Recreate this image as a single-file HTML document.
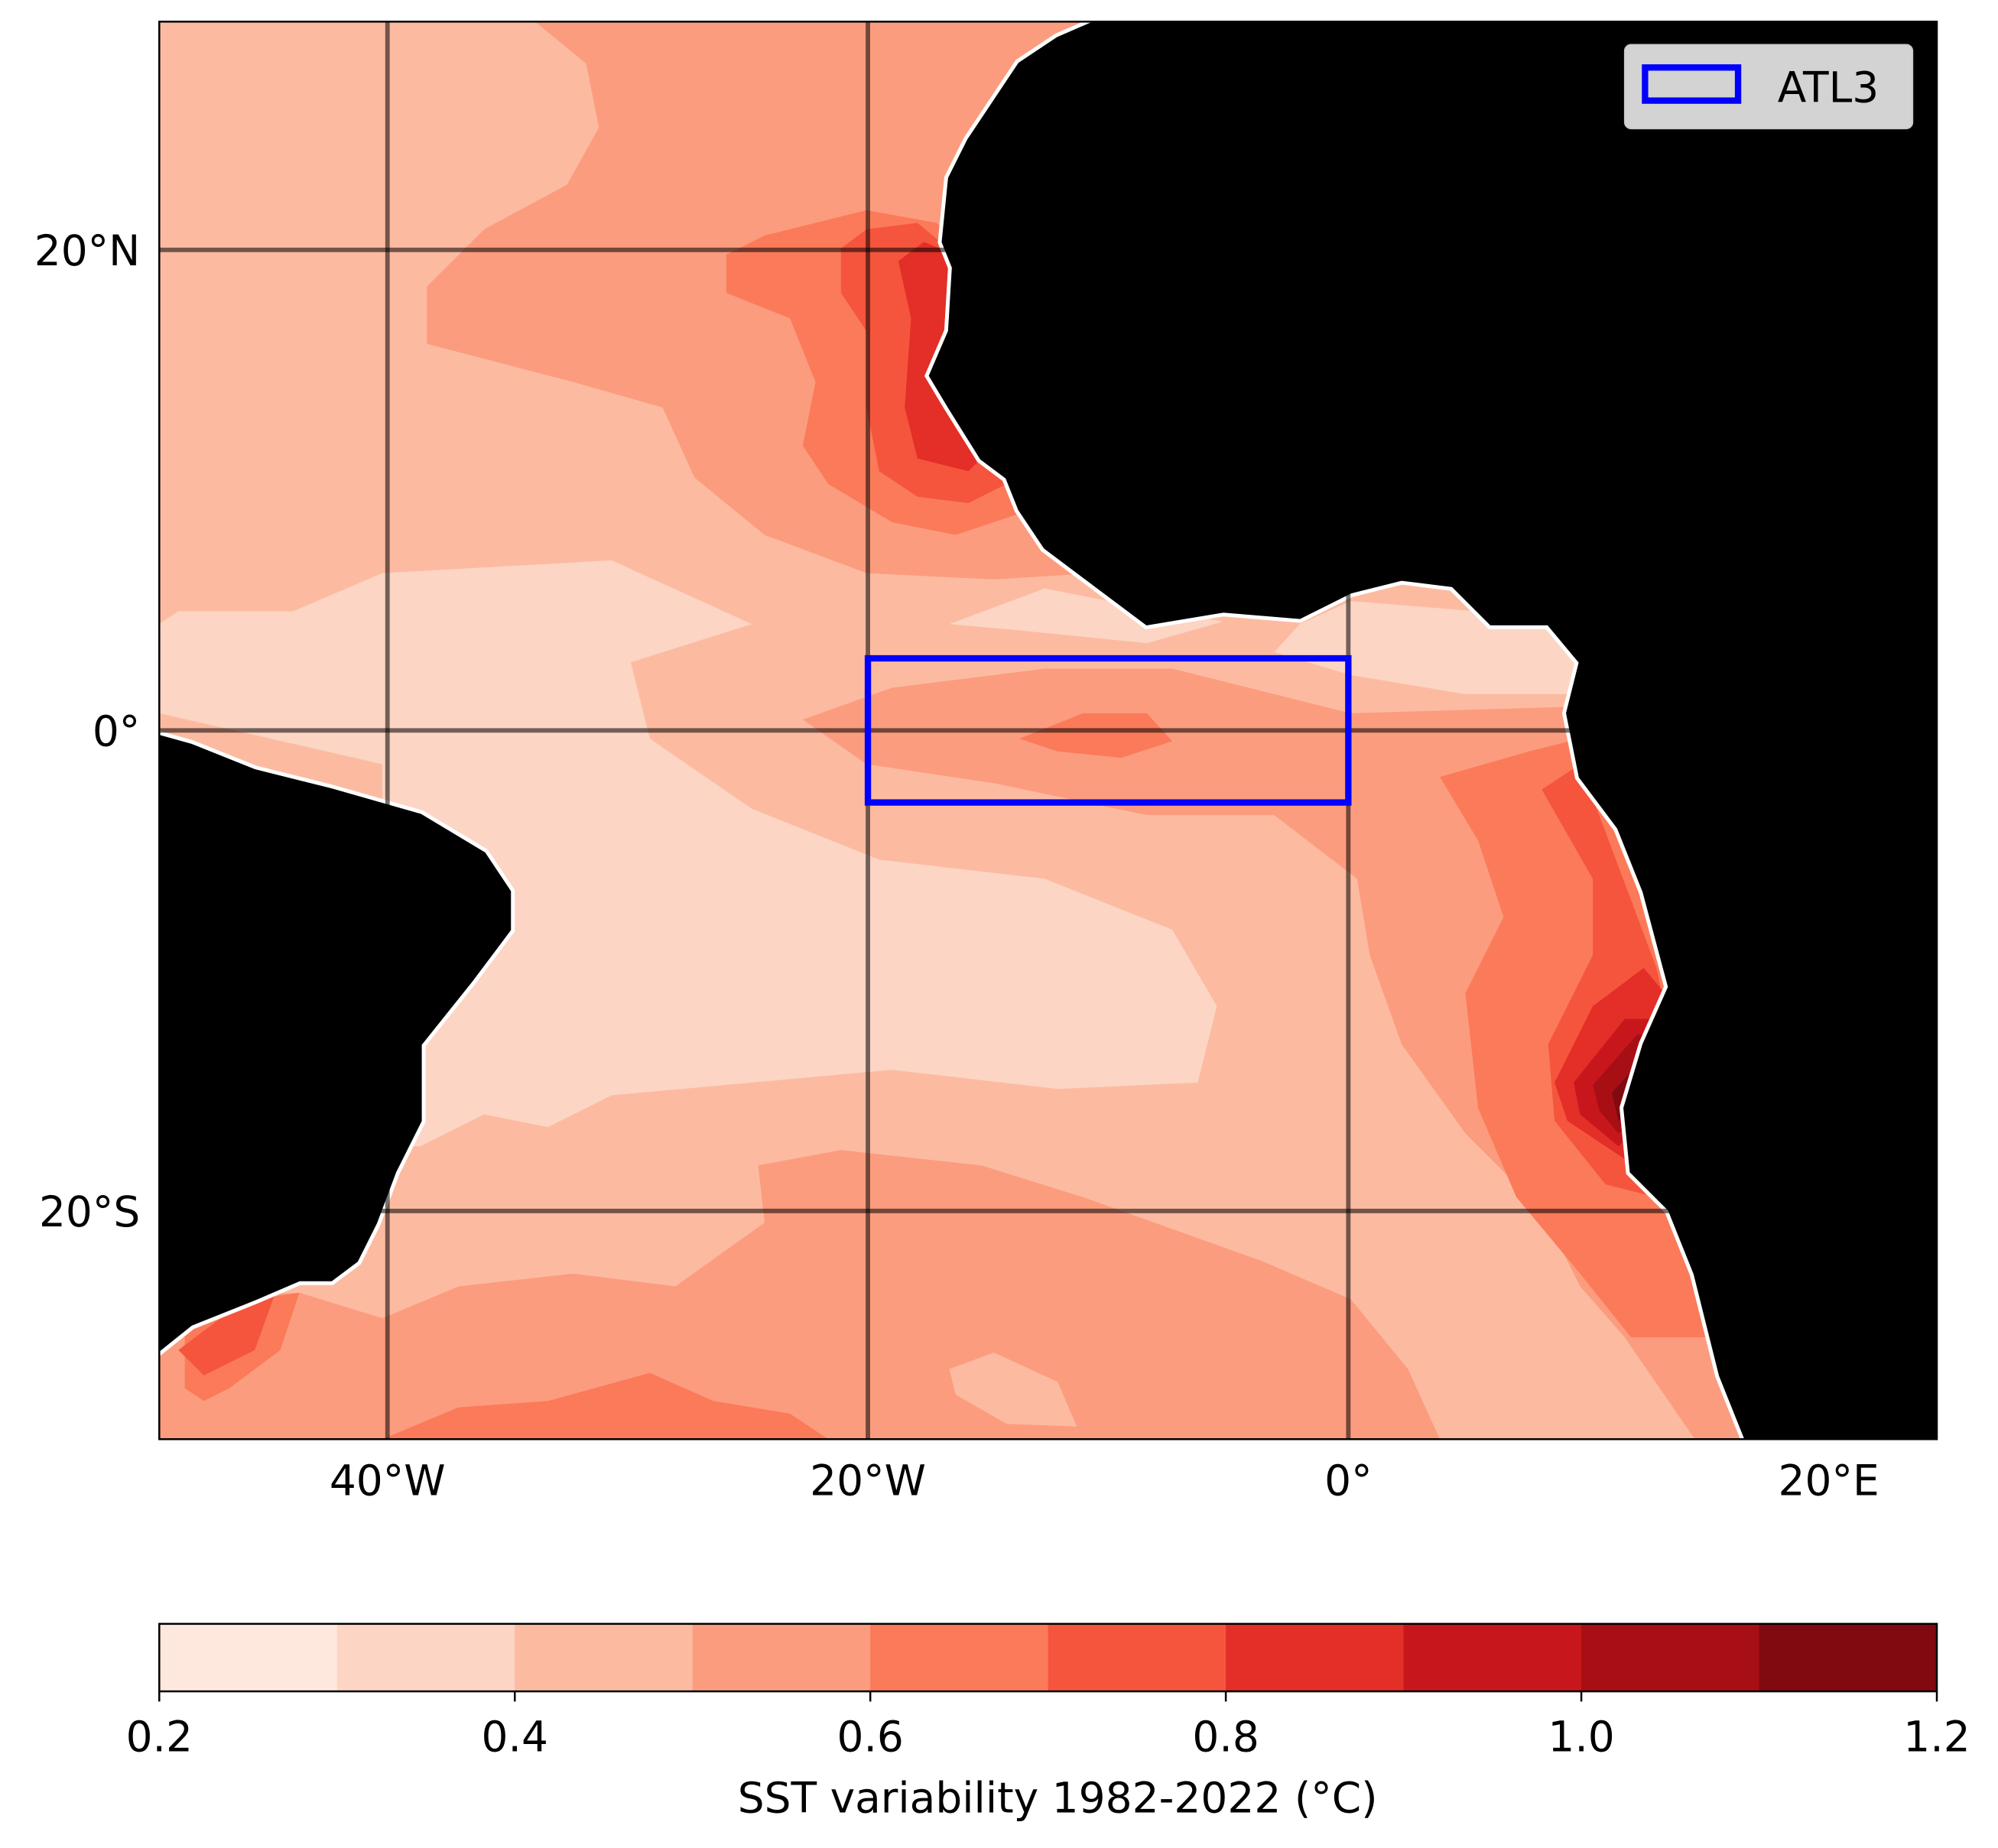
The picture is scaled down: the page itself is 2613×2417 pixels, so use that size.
<!DOCTYPE html>
<html><head><meta charset="utf-8">
<style>
html,body{margin:0;padding:0;background:#fff;}
svg{display:block;font-family:"DejaVu Sans","Liberation Sans",sans-serif;}
</style></head>
<body>
<svg id="fig" width="2613" height="2417" viewBox="0 0 1568 1451" preserveAspectRatio="none" xmlns="http://www.w3.org/2000/svg">
<defs><clipPath id="mapclip"><rect x="125" y="17" width="1395" height="1113"/></clipPath></defs>
<g id="map" clip-path="url(#mapclip)"></g>
<g id="overlay"></g>
</svg>
<script>
// colorbar data
const levels = [0.2,0.3,0.4,0.5,0.6,0.7,0.8,0.9,1.0,1.1,1.2];
const levelColors = ['#fee8dd','#fcd5c4','#fcbba1','#fc9c7e','#fb7a5a','#f5553d','#e32f27','#c8171c','#a80f15','#800a10'];
const cbTicks = [0.2,0.4,0.6,0.8,1.0,1.2];
const lonTicks = [-40,-20,0,20];
const lonLabels = ['40°W','20°W','0°','20°E'];
const latTicks = [20,0,-20];
const latLabels = ['20°N','0°','20°S'];
const atl3Lon = [-20,0];
const atl3Lat = [-3,3];

// contour geometry (display coords) per level index
const contours = [
 {lvl:1, pts:[[140,480],[230,480],[300,450],[480,440],[590,490],[495,520],[510,580],[590,635],[690,675],[820,690],[920,730],[955,790],[940,850],[830,855],[700,840],[590,850],[480,860],[430,885],[380,875],[330,900],[300,900],[300,600],[125,560],[125,490]]},
 {lvl:1, pts:[[1060,472],[1160,480],[1215,490],[1240,520],[1230,545],[1150,545],[1060,530],[1000,512],[1020,490]]},
 {lvl:1, pts:[[745,490],[820,462],[900,478],[960,488],[900,505],[800,495]]},
 {lvl:3, pts:[[420,17],[860,17],[860,450],[780,455],[680,450],[600,420],[545,375],[520,320],[450,300],[335,270],[335,225],[380,180],[445,145],[470,100],[460,50]]},
 {lvl:3, pts:[[630,565],[700,540],[820,525],[920,525],[1060,560],[1230,555],[1400,560],[1400,1130],[1330,1130],[1275,1050],[1240,1010],[1210,950],[1150,890],[1100,820],[1075,750],[1065,690],[1000,640],[900,640],[780,615],[680,600]]},
 {lvl:3, pts:[[125,1020],[235,1015],[300,1035],[360,1010],[450,1000],[530,1010],[600,960],[595,915],[660,903],[770,915],[850,940],[990,990],[1060,1020],[1105,1075],[1130,1130],[125,1130]]},
 {lvl:2, pts:[[745,1075],[780,1062],[830,1085],[845,1120],[790,1118],[750,1095]]},
 {lvl:4, pts:[[570,200],[600,185],[680,165],[735,175],[760,200],[760,350],[790,370],[810,400],[750,420],[700,410],[650,380],[630,350],[640,300],[620,250],[570,230]]},
 {lvl:4, pts:[[1130,610],[1200,590],[1240,580],[1300,700],[1320,850],[1330,1000],[1340,1050],[1280,1050],[1240,1000],[1190,940],[1160,870],[1150,780],[1180,720],[1160,660]]},
 {lvl:4, pts:[[145,1040],[200,1020],[235,1015],[220,1060],[180,1090],[160,1100],[145,1090]]},
 {lvl:4, pts:[[300,1130],[360,1105],[430,1100],[510,1078],[560,1100],[620,1110],[650,1130]]},
 {lvl:4, pts:[[800,580],[850,560],[900,560],[920,582],[880,595],[830,590]]},
 {lvl:5, pts:[[660,195],[680,180],[720,175],[750,200],[750,320],[780,360],[790,380],[760,395],[720,390],[690,370],[680,320],[680,260],[660,230]]},
 {lvl:5, pts:[[1210,620],[1240,600],[1270,680],[1300,760],[1315,830],[1300,940],[1260,930],[1220,880],[1215,820],[1250,750],[1250,690]]},
 {lvl:5, pts:[[140,1060],[180,1030],[215,1018],[200,1060],[160,1080]]},
 {lvl:6, pts:[[705,205],[725,190],[750,200],[750,330],[770,360],[760,370],[720,360],[710,320],[715,250]]},
 {lvl:6, pts:[[1220,850],[1250,790],[1290,760],[1315,790],[1300,900],[1275,910],[1230,880]]},
 {lvl:7, pts:[[1235,850],[1275,800],[1312,800],[1295,880],[1270,900],[1240,875]]},
 {lvl:8, pts:[[1250,852],[1285,812],[1310,815],[1285,880],[1270,890],[1255,872]]},
 {lvl:9, pts:[[1265,858],[1290,830],[1300,830],[1280,875],[1270,880]]}
];
const africa=[[860,17],[830,30],[800,50],[780,80],[760,110],[745,140],[740,190],[748,210],[745,260],[730,295],[745,320],[770,360],[790,375],[800,400],[820,430],[860,460],[900,490],[960,480],[1020,485],[1060,465],[1100,455],[1140,460],[1170,490],[1215,490],[1240,520],[1230,560],[1240,610],[1270,650],[1290,700],[1310,775],[1290,820],[1275,870],[1280,920],[1310,950],[1330,1000],[1350,1080],[1370,1130],[1520,1130],[1520,17]];
const brazil=[[125,578],[150,585],[200,605],[260,620],[330,640],[380,670],[400,700],[400,730],[370,770],[330,820],[330,880],[310,920],[295,960],[280,990],[260,1005],[235,1005],[200,1020],[150,1040],[125,1060]];

const NS='http://www.w3.org/2000/svg';
const X0=125,X1=1520,Y0=17,Y1=1130;
const lonMin=-49.5,lonMax=24.5,latMin=-29.5,latMax=29.5;
const xs=l=>X0+(l-lonMin)/(lonMax-lonMin)*(X1-X0);
const ys=l=>Y1-(l-latMin)/(latMax-latMin)*(Y1-Y0);
const cbX=v=>125+(v-levels[0])/(levels[levels.length-1]-levels[0])*1395;
function mk(tag,attrs,parent){const e=document.createElementNS(NS,tag);for(const k in attrs)e.setAttribute(k,attrs[k]);parent.appendChild(e);return e;}
const map=document.getElementById('map'),ov=document.getElementById('overlay');
const pstr=p=>p.map(q=>q.join(',')).join(' ');

let bg=mk('rect',{x:X0,y:Y0,width:X1-X0,height:Y1-Y0,fill:levelColors[2]},map);


contours.forEach((c,i)=>{
 const e=mk('polygon',{points:pstr(c.pts),fill:levelColors[c.lvl]},map);
 
 
});
[['africa-land',africa],['south-america-land',brazil]].forEach(([n,p])=>{
 mk('polygon',{points:pstr(p),fill:'none',stroke:'#fff','stroke-width':8},map);
 const e=mk('polygon',{points:pstr(p),fill:'#000',stroke:'#000','stroke-width':2},map);
 
 
});
lonTicks.forEach((l,i)=>{
 const g=mk('line',{x1:xs(l),x2:xs(l),y1:Y0,y2:Y1,stroke:'rgba(0,0,0,0.55)','stroke-width':3.5},map);
 
 
 const t=mk('text',{x:xs(l),y:1174,'font-size':33,'text-anchor':'middle'},ov);t.textContent=lonLabels[i];
 
 
});
latTicks.forEach((l,i)=>{
 const g=mk('line',{x1:X0,x2:X1,y1:ys(l),y2:ys(l),stroke:'rgba(0,0,0,0.55)','stroke-width':3.5},map);
 
 
 const t=mk('text',{x:110,y:ys(l)+12,'font-size':33,'text-anchor':'end'},ov);t.textContent=latLabels[i];
 
 
});
const box=mk('rect',{x:xs(atl3Lon[0]),y:ys(atl3Lat[1]),width:xs(atl3Lon[1])-xs(atl3Lon[0]),height:ys(atl3Lat[0])-ys(atl3Lat[1]),fill:'none',stroke:'#0000ff','stroke-width':5},map);


const fr=mk('rect',{x:X0,y:Y0,width:X1-X0,height:Y1-Y0,fill:'none',stroke:'#000','stroke-width':1.5},ov);


// legend
const lg=mk('g',{},ov);


mk('rect',{x:1275,y:35,width:226,height:66,rx:5,fill:'#d3d3d3',stroke:'#c8c8c8'},lg);
const lp=mk('rect',{x:1291,y:53,width:73,height:26,fill:'none',stroke:'#0000ff','stroke-width':5},lg);


const lt=mk('text',{x:1395,y:80,'font-size':33},lg);lt.textContent='ATL3';


// colorbar
const cb=mk('g',{},ov);


levelColors.forEach((c,i)=>{
 const r=mk('rect',{x:cbX(levels[i]),y:1275,width:cbX(levels[i+1])-cbX(levels[i])+0.5,height:53,fill:c},cb);
 
 
});
mk('rect',{x:125,y:1275,width:1395,height:53,fill:'none',stroke:'#000','stroke-width':1.5},cb);
cbTicks.forEach(v=>{
 mk('line',{x1:cbX(v),x2:cbX(v),y1:1328,y2:1336,stroke:'#000','stroke-width':1.5},cb);
 const t=mk('text',{x:cbX(v),y:1375,'font-size':33,'text-anchor':'middle'},cb);t.textContent=v.toFixed(1);
 
 
});
const ct=mk('text',{x:830,y:1423,'font-size':33,'text-anchor':'middle'},cb);ct.textContent='SST variability 1982-2022 (°C)';


</script>
</body></html>
